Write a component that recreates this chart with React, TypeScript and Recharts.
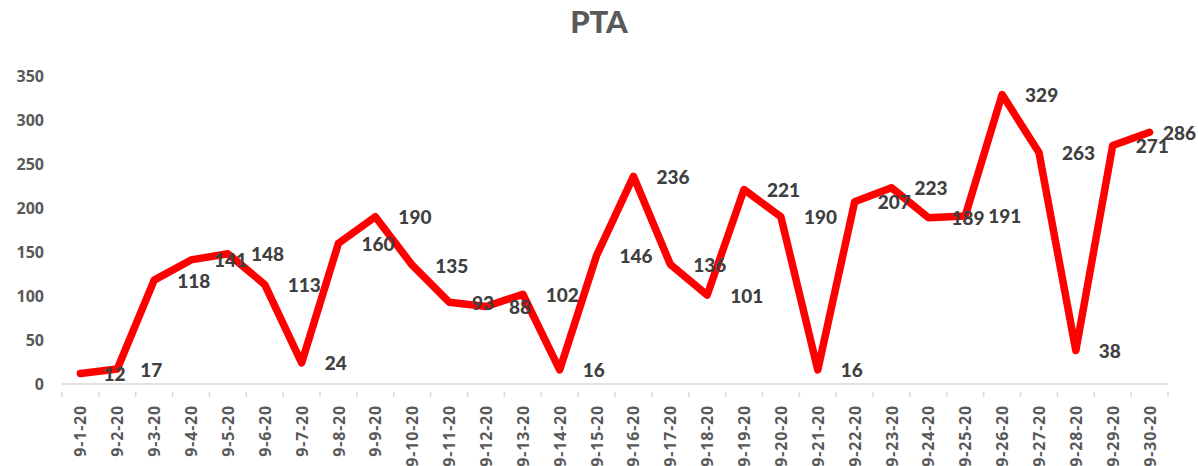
import { Line, LineChart, XAxis, YAxis, LabelList } from "recharts";

const dates = [
  "9-1-20", "9-2-20", "9-3-20", "9-4-20", "9-5-20", "9-6-20", "9-7-20", "9-8-20", "9-9-20", "9-10-20",
  "9-11-20", "9-12-20", "9-13-20", "9-14-20", "9-15-20", "9-16-20", "9-17-20", "9-18-20", "9-19-20", "9-20-20",
  "9-21-20", "9-22-20", "9-23-20", "9-24-20", "9-25-20", "9-26-20", "9-27-20", "9-28-20", "9-29-20", "9-30-20",
];
const pta = [
  12, 17, 118, 141, 148, 113, 24, 160, 190, 135,
  93, 88, 102, 16, 146, 236, 136, 101, 221, 190,
  16, 207, 223, 189, 191, 329, 263, 38, 271, 286,
];
const yTicks = [0, 50, 100, 150, 200, 250, 300, 350];

const data = dates.map((date, i) => ({ date, pta: pta[i] }));

const W = 1198;
const H = 466;
const LEFT = 62;
const RIGHT = 30;
const band = (W - LEFT - RIGHT) / dates.length;
const FONT = "Lato, 'Open Sans', sans-serif";
const TICK_FONT = "'Open Sans', Lato, sans-serif";

const DateTick = (props: any) => {
  const { x, y, payload, index } = props;
  const half = band / 2;
  return (
    <g transform={`translate(${x},${y})`}>
      <line x1={-half} x2={-half} y1={0} y2={5} stroke="#d9d9d9" strokeWidth={1.5} />
      {index === dates.length - 1 && (
        <line x1={half} x2={half} y1={0} y2={5} stroke="#d9d9d9" strokeWidth={1.5} />
      )}
      <text
        x={-13}
        y={0}
        transform="rotate(-90)"
        textAnchor="end"
        dominantBaseline="central"
        fill="#595959"
        fontSize={16}
        fontWeight="bold"
        letterSpacing={0.8}
        fontFamily={TICK_FONT}
      >
        {payload.value}
      </text>
    </g>
  );
};

const ValueLabel = (props: any) => {
  const { x, y, value } = props;
  const w = String(value).length * 11;
  const tx = Math.min(x + 23, W - 2 - w);
  return (
    <text
      x={tx}
      y={y}
      dominantBaseline="central"
      textAnchor="start"
      fill="#404040"
      fontSize={19}
      fontWeight={900}
      fontFamily={FONT}
    >
      {value}
    </text>
  );
};

export default function App() {
  return (
    <div style={{ position: "absolute", left: 0, top: 0, width: W, height: H, background: "#fff", fontFamily: FONT }}>
      <div
        style={{
          position: "absolute",
          top: 1,
          left: 0,
          width: W,
          textAlign: "center",
          fontSize: 31,
          lineHeight: "40px",
          fontWeight: 900,
          color: "#595959",
        }}
      >
        PTA
      </div>
      <LineChart width={W} height={H} data={data} margin={{ top: 76, right: RIGHT, left: 0, bottom: 0 }}>
        <XAxis
          dataKey="date"
          interval={0}
          height={82}
          tickLine={false}
          axisLine={{ stroke: "#d9d9d9", strokeWidth: 1.5 }}
          padding={{ left: band / 2, right: band / 2 }}
          tick={<DateTick />}
        />
        <YAxis
          width={LEFT}
          domain={[0, 350]}
          ticks={yTicks}
          axisLine={false}
          tickLine={false}
          tickSize={0}
          tickMargin={18}
          tick={{ fill: "#595959", fontSize: 16, fontWeight: "bold", fontFamily: TICK_FONT }}
        />
        <Line
          type="linear"
          dataKey="pta"
          stroke="#ff0000"
          strokeWidth={7.5}
          strokeLinejoin="round"
          strokeLinecap="round"
          dot={false}
          isAnimationActive={false}
        >
          <LabelList dataKey="pta" content={<ValueLabel />} />
        </Line>
      </LineChart>
    </div>
  );
}
